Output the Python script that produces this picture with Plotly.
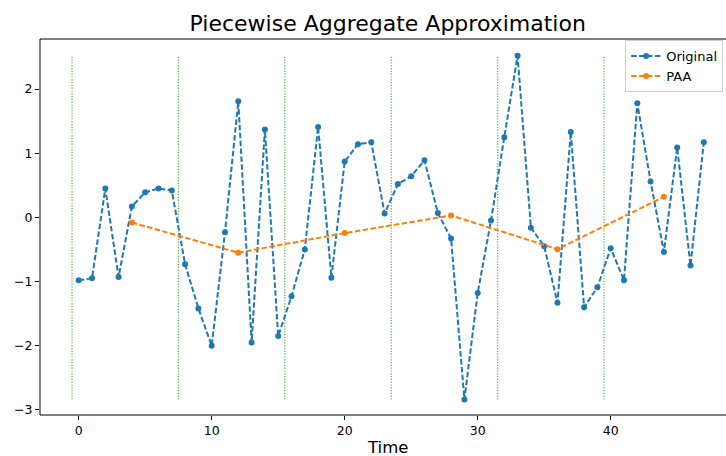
import plotly.graph_objects as go

time_idx = list(range(48))
original = [-0.98, -0.95, 0.45, -0.93, 0.17, 0.39, 0.45, 0.42,
            -0.73, -1.42, -2.00, -0.23, 1.81, -1.95, 1.37, -1.85,
            -1.23, -0.50, 1.41, -0.94, 0.87, 1.14, 1.17, 0.06,
            0.52, 0.64, 0.89, 0.07, -0.33, -2.84, -1.18, -0.05,
            1.25, 2.52, -0.16, -0.45, -1.33, 1.33, -1.40, -1.09,
            -0.48, -0.98, 1.78, 0.56, -0.54, 1.09, -0.75, 1.17]
paa_x = [4, 12, 20, 28, 36, 44]
paa_values = [-0.08, -0.55, -0.245, 0.03, -0.495, 0.32]
boundaries = [-0.5, 7.5, 15.5, 23.5, 31.5, 39.5]
x_ticks = [0, 10, 20, 30, 40]
y_ticks = [-3, -2, -1, 0, 1, 2]

FONT = "DejaVu Sans"
BLUE = "#1f77b4"
ORANGE = "#ff7f0e"
GREEN = "#2ca02c"

vmin, vmax = min(original), max(original)
vx, vy = [], []
for b in boundaries:
    vx += [b, b, None]
    vy += [vmin, vmax, None]

fig = go.Figure()
fig.add_trace(go.Scatter(x=vx, y=vy, mode="lines", showlegend=False,
                         line=dict(color=GREEN, width=1.2, dash="1.2px,1.6px"),
                         opacity=0.85, hoverinfo="skip"))
fig.add_trace(go.Scatter(x=time_idx, y=original, mode="lines+markers", name="Original",
                         line=dict(color=BLUE, width=2, dash="5.5px,2.4px"),
                         marker=dict(color=BLUE, size=6)))
fig.add_trace(go.Scatter(x=paa_x, y=paa_values, mode="lines+markers", name="PAA",
                         line=dict(color=ORANGE, width=2, dash="5.5px,2.4px"),
                         marker=dict(color=ORANGE, size=6)))

axis_common = dict(showgrid=False, zeroline=False, showline=False,
                   ticks="outside", ticklen=4, tickwidth=1, tickcolor="#000",
                   tickfont=dict(family=FONT, size=12.5, color="#000"))
fig.update_xaxes(range=[-2.91, 48.67], tickvals=x_ticks, **axis_common)
fig.update_yaxes(range=[-3.08, 2.78], tickvals=y_ticks, **axis_common)

fig.add_shape(type="rect", xref="paper", yref="paper", x0=0, x1=1.2, y0=0, y1=1,
              line=dict(color="#000", width=1), layer="above")

fig.add_annotation(text="Time", xref="paper", yref="paper", x=0.5066, y=0,
                   yshift=-32.5, showarrow=False, yanchor="middle",
                   font=dict(family=FONT, size=16.5, color="#000"))

fig.update_layout(
    width=726, height=456,
    margin=dict(l=40, r=0, t=39, b=41),
    paper_bgcolor="white", plot_bgcolor="white",
    title=dict(text="Piecewise Aggregate Approximation", x=0.534, xref="container",
               xanchor="center", y=1 - 23 / 456, yref="container", yanchor="middle",
               font=dict(family=FONT, size=22, color="#000")),
    legend=dict(x=0.853, y=0.997, xanchor="left", yanchor="top",
                bgcolor="rgba(255,255,255,0.85)", bordercolor="#cccccc", borderwidth=1,
                font=dict(family=FONT, size=13, color="#000"),
                itemwidth=30, tracegroupgap=0),
    showlegend=True,
)

fig.write_html("out.html")
